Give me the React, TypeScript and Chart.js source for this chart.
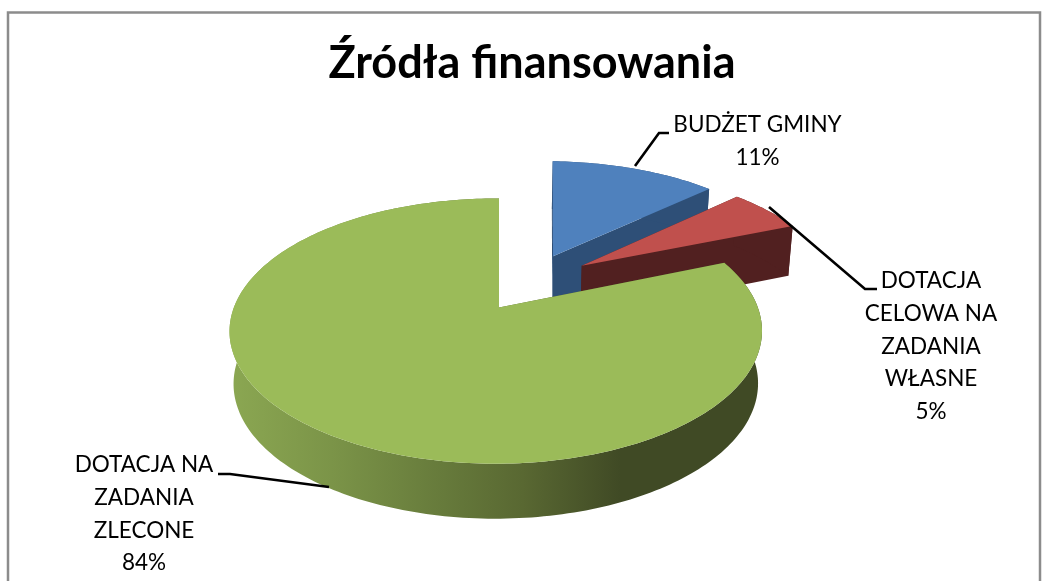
import React, { useEffect, useRef } from "react";
import { Chart, registerables } from "chart.js";

Chart.register(...registerables);

const categories = ["BUDŻET GMINY", "DOTACJA CELOWA NA ZADANIA WŁASNE", "DOTACJA NA ZADANIA ZLECONE"];
const shares = [11, 5, 84];
const labelLines = [
  ["BUDŻET GMINY", "11%"],
  ["DOTACJA", "CELOWA NA", "ZADANIA", "WŁASNE", "5%"],
  ["DOTACJA NA", "ZADANIA", "ZLECONE", "84%"],
];
const topColors = ["#4f81bd", "#c0504d", "#9bbb59"];
const wallColors = ["#2e4f77", "#512020", "#404a25"];
const titleText = "Źródła finansowania";

// 3D look of the pie
const TILT = 0.49;
const PERSPECTIVE = 0.178;
const TAPER = 0.985;
const SHIFT_X = -33;
const explode = [
  { u: 0.222, v: -0.43, apexU: 0.222 },
  { u: 0.335, v: -0.345, apexU: 0.335 },
  { u: -0.012, v: 0, apexU: 0 },
];
const WARP_START = 0.035;
const WARP_UNTIL = Math.PI / 3;
const WARP_GAIN = 1.15;
const WARP_END = Math.PI * 2 + 0.012;
const FONT = "Lato, Carlito, sans-serif";

function warp(t: number) {
  const full = Math.PI * 2;
  const knee = WARP_START + WARP_UNTIL * WARP_GAIN;
  if (t <= WARP_UNTIL) return WARP_START + t * WARP_GAIN;
  return knee + ((t - WARP_UNTIL) * (WARP_END - knee)) / (full - WARP_UNTIL);
}

const wallDepth = (v: number) => 52 + 3 * v;

const pie3d = {
  id: "pie3d",
  beforeDraw(chart: any) {
    const { ctx, width } = chart;
    ctx.save();
    ctx.fillStyle = "#ffffff";
    ctx.fillRect(0, 0, width, chart.height);
    ctx.strokeStyle = "#8c8c8c";
    ctx.lineWidth = 2.5;
    ctx.strokeRect(8, 12.5, 1032, 600);
    ctx.restore();
  },
  beforeDatasetsDraw(chart: any) {
    const { ctx } = chart;
    const arcs = chart.getDatasetMeta(0).data;
    const wallGradient = ctx.createLinearGradient(230, 0, 620, 0);
    wallGradient.addColorStop(0, "#8ba752");
    wallGradient.addColorStop(0.26, "#7b9448");
    wallGradient.addColorStop(0.55, "#667a3b");
    wallGradient.addColorStop(0.75, "#596832");
    wallGradient.addColorStop(1, "#404a25");

    arcs.forEach((arc: any, i: number) => {
      const R = arc.outerRadius;
      const cx = arc.x + SHIFT_X;
      const cy = arc.y;
      const a0 = warp(arc.startAngle + Math.PI / 2);
      const a1 = warp(arc.endAngle + Math.PI / 2);
      const e = explode[i];
      const project = (u: number, v: number, low: boolean) => {
        const s = 1 / (1 - PERSPECTIVE * v);
        const t = low ? TAPER : 1;
        return [cx + R * u * s * t, cy + R * TILT * v * s + (low ? wallDepth(v) : 0)];
      };
      const n = Math.max(4, Math.ceil((a1 - a0) / 0.02));
      const rim: number[][] = [];
      for (let k = 0; k <= n; k++) {
        const a = a0 + ((a1 - a0) * k) / n;
        rim.push([e.u + Math.sin(a), e.v - Math.cos(a)]);
      }
      const trace = (pts: number[][]) => {
        ctx.beginPath();
        pts.forEach((p, k) => (k ? ctx.lineTo(p[0], p[1]) : ctx.moveTo(p[0], p[1])));
        ctx.closePath();
      };
      const apexTop = project(e.apexU, e.v, false);
      const apexLow = project(e.apexU, e.v, true);
      ctx.fillStyle = i === 2 ? wallGradient : wallColors[i];
      // radial walls
      [rim[0], rim[n]].forEach((p) => {
        trace([apexTop, project(p[0], p[1], false), project(p[0], p[1], true), apexLow]);
        ctx.fill();
      });
      // outer wall
      trace([
        ...rim.map((p) => project(p[0], p[1], false)),
        ...rim.slice().reverse().map((p) => project(p[0], p[1], true)),
      ]);
      ctx.fill();
      // top face
      ctx.fillStyle = topColors[i];
      trace([apexTop, ...rim.map((p) => project(p[0], p[1], false))]);
      ctx.fill();
    });
    return false;
  },
  afterDraw(chart: any) {
    const { ctx } = chart;
    ctx.save();
    ctx.strokeStyle = "#000000";
    ctx.lineWidth = 2.6;
    [
      [[669, 133], [659, 133], [635, 166]],
      [[877, 289], [865, 289], [769, 207]],
      [[218, 474], [230, 474], [329, 487]],
    ].forEach((line) => {
      ctx.beginPath();
      line.forEach((p, k) => (k ? ctx.lineTo(p[0], p[1]) : ctx.moveTo(p[0], p[1])));
      ctx.stroke();
    });
    ctx.fillStyle = "#000000";
    ctx.font = `22.5px ${FONT}`;
    ctx.textAlign = "center";
    ctx.textBaseline = "middle";
    const anchors = [
      { x: 757.5, y: 125 },
      { x: 931, y: 281 },
      { x: 144, y: 465 },
    ];
    labelLines.forEach((lines, i) => {
      lines.forEach((text, k) => ctx.fillText(text, anchors[i].x, anchors[i].y + k * 32.7));
    });
    ctx.restore();
  },
};

export default function App() {
  const ref = useRef<HTMLCanvasElement>(null);
  useEffect(() => {
    const chart = new Chart(ref.current as HTMLCanvasElement, {
      type: "pie",
      data: {
        labels: categories,
        datasets: [{ data: shares, backgroundColor: topColors, borderWidth: 0 }],
      },
      options: {
        animation: false,
        responsive: false,
        radius: 262,
        layout: { padding: { left: 17, right: 0, top: 0, bottom: 56 } },
        plugins: {
          legend: { display: false },
          tooltip: { enabled: false },
          title: {
            display: true,
            text: titleText,
            color: "#000000",
            font: { family: FONT, size: 45, weight: "bold", lineHeight: 1.2 },
            padding: { top: 36, bottom: 0 },
          },
        },
      } as any,
      plugins: [pie3d],
    });
    return () => chart.destroy();
  }, []);
  return (
    <div style={{ position: "fixed", left: 0, top: 0, width: 1047, height: 581, overflow: "hidden", background: "#fff" }}>
      <canvas ref={ref} width={1047} height={581} style={{ display: "block" }} />
    </div>
  );
}
